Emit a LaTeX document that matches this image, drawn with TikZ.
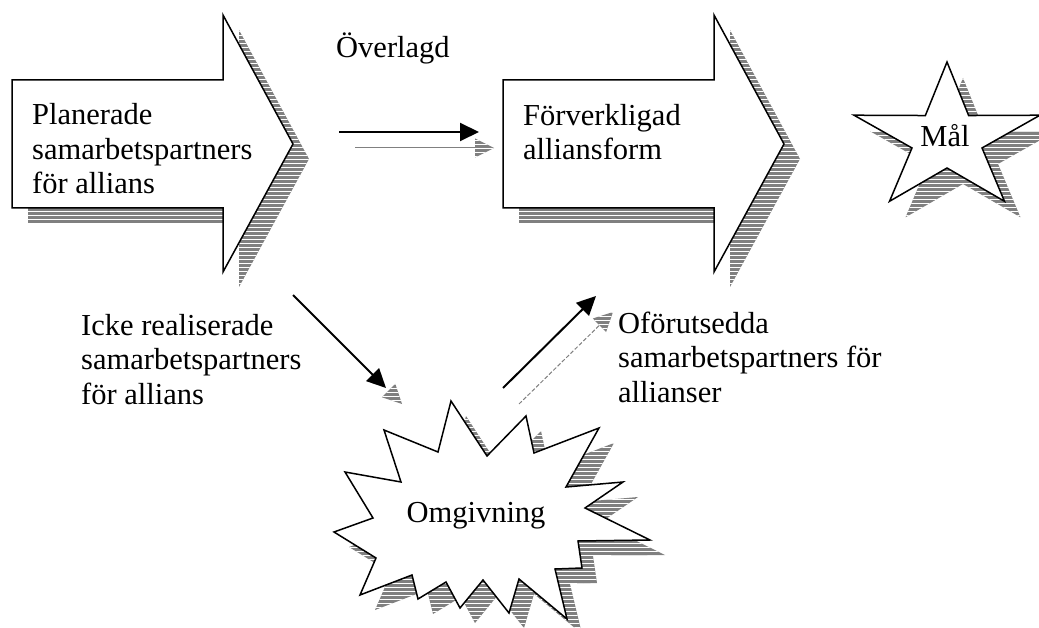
\documentclass[tikz,border=0pt]{standalone}
\usepackage{fontspec}
\setmainfont{Liberation Serif}
\usetikzlibrary{arrows.meta, calc}

\newcommand{\bigarrow}{(0,80) -- (211,80) -- (211,15) -- (281,144) -- (211,272) -- (211,208) -- (0,208) -- cycle}
\newcommand{\omgpath}{(451,401) -- (487,456) -- (526,416) -- (534,453) -- (599,428) -- (566,487) -- (623,482) -- (585,508) -- (650,540) -- (578,541) -- (582,568) -- (555,569) -- (567,619) -- (519,579) -- (509,613) -- (483,580) -- (460,608) -- (446,582) -- (418,599) -- (412,575) -- (360,595) -- (376,558) -- (334,532) -- (373,518) -- (345,472) -- (401,482) -- (384,430) -- (438,452) -- cycle}
\newcommand{\starpath}{(-90:77) -- (-54:29) -- (-18:77) -- (18:29) -- (54:77) -- (90:29) -- (126:77) -- (162:29) -- (198:77) -- (234:29) -- cycle}
\newcommand{\shadowtip}[2]{%
  \coordinate (tipbase) at ($(#2)!19pt!(#1)$);
  \fill[hatch] (#2) -- ($(tipbase)!9.5pt!90:(#2)$) -- ($(tipbase)!9.5pt!-90:(#2)$) -- cycle;}

\begin{document}
\begin{tikzpicture}[x=1pt, y=-1pt, >={Triangle[length=19pt, width=18pt]}]
        \tikzstyle{outline} = [draw, fill=white, line width=1.5pt, line join=miter]
        \tikzstyle{hatch} = [fill=black!50, path picture={\foreach \y in {-700,-696,...,700} \draw[white, line width=0.9pt] (-700,\y) -- (1200,\y);}]
        \tikzstyle{txt} = [anchor=base west, align=left, inner sep=0pt, font=\fontsize{30.5}{34.5}\selectfont]
        \tikzstyle{conn} = [->, line width=2pt]
        \tikzstyle{ghost} = [black!50, line width=1pt]

        \useasboundingbox (0,0) rectangle (1039,628);

        % shadows
        \fill[hatch, shift={(28,15)}] \bigarrow;
        \fill[hatch, shift={(519,15)}] \bigarrow;
        \fill[hatch, shift={(15,15)}] \omgpath;
        \fill[hatch, shift={(963,155)}, xscale=1.27] \starpath;

        % shapes
        \draw[outline, shift={(12,0)}] \bigarrow;
        \draw[outline, shift={(503,0)}] \bigarrow;
        \draw[outline] \omgpath;
        \draw[outline, shift={(947,139)}, xscale=1.27] \starpath;

        % base = last line
        \node[txt] (plan) at (32,194) {Planerade\\samarbetspartners\\för allians};
        \node[txt] (real) at (523,160) {Förverkligad\\alliansform};
        \node[txt, anchor=base] (goal) at (945,147) {Mål};
        \node[txt, anchor=base] (env) at (476,522) {Omgivning};
        \node[txt] (delib) at (336,58) {Överlagd};
        \node[txt] (unreal) at (81,404) {Icke realiserade\\samarbetspartners\\för allians};
        \node[txt] (emerg) at (618,402) {Oförutsedda\\samarbetspartners för\\allianser};

        % connectors
        \coordinate (d1) at (339,132);
        \coordinate (d2) at (479,132);
        \coordinate (d1s) at (355,148);
        \coordinate (d2s) at (494,148);
        \coordinate (u1) at (293,295);
        \coordinate (u2) at (386,388);
        \coordinate (u1s) at (309,311);
        \coordinate (u2s) at (402,404);
        \coordinate (e1) at (503,388);
        \coordinate (e2) at (596,296);
        \coordinate (e1s) at (519,404);
        \coordinate (e2s) at (613,312);

        \draw[ghost] (d1s) -- ($(d2s)!17pt!(d1s)$);
        \shadowtip{d1s}{d2s}
        \shadowtip{u1s}{u2s}
        \draw[ghost, dash pattern=on 4pt off 2pt] (e1s) -- ($(e2s)!17pt!(e1s)$);
        \shadowtip{e1s}{e2s}

        \draw[conn] (d1) -- (d2);
        \draw[conn] (u1) -- (u2);
        \draw[conn] (e1) -- (e2);
\end{tikzpicture}
\end{document}
